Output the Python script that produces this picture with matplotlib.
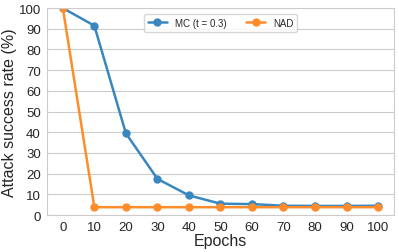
import matplotlib
matplotlib.use("Agg")
import matplotlib.pyplot as plt
import seaborn as sns

sns.set_style("whitegrid")
plt.rcParams['font.family'] = ['Liberation Sans', 'DejaVu Sans']

epochs = [0, 10, 20, 30, 40, 50, 60, 70, 80, 90, 100]
mc_asr = [100, 91.5, 39.5, 17.5, 9.5, 5.5, 5.3, 4.5, 4.4, 4.4, 4.5]
nad_asr = [100, 3.8, 3.8, 3.8, 3.8, 3.8, 3.8, 3.8, 3.8, 3.8, 3.8]

fig, ax = plt.subplots(figsize=(3.99, 2.53), dpi=100)
ax.plot(epochs, mc_asr, marker='o', markersize=5, linewidth=1.8, color='#3a87c0', label='MC (t = 0.3)')
ax.plot(epochs, nad_asr, marker='o', markersize=5, linewidth=1.8, color='#ff8c2a', label='NAD')

ax.set_ylim(0, 100)
ax.set_xlim(-5, 105)
ax.set_xticks(epochs)
ax.set_yticks(range(0, 101, 10))
ax.grid(axis='x', visible=False)
ax.tick_params(labelsize=9.5, pad=1)
ax.set_xlabel("Epochs", fontsize=11.5, labelpad=0)
ax.set_ylabel("Attack success rate (%)", fontsize=11.5, labelpad=1)
ax.legend(loc='upper center', ncol=2, fontsize=7, frameon=True, borderaxespad=0.6)

plt.subplots_adjust(left=0.118, right=0.987, top=0.964, bottom=0.146)
plt.savefig("out.png", dpi=100)
